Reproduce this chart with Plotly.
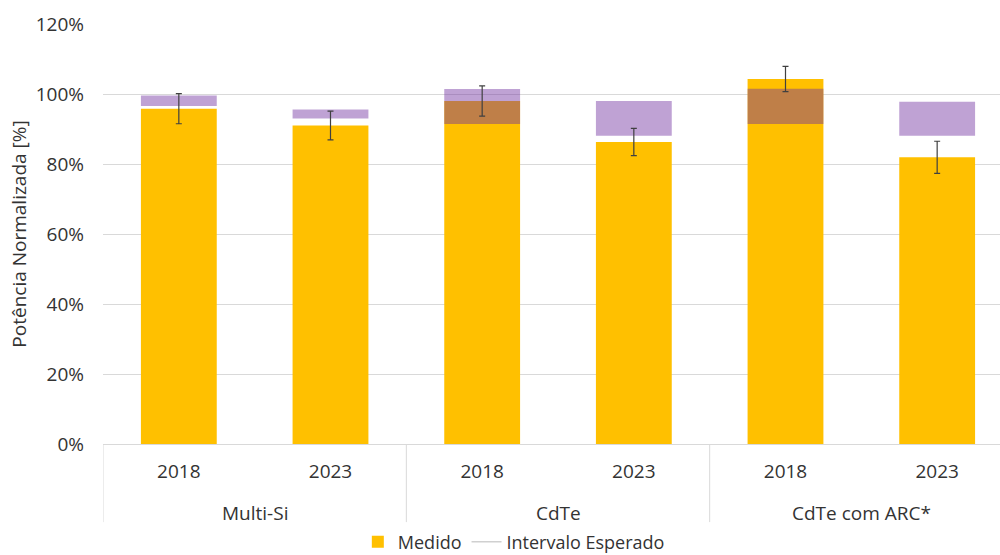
import plotly.graph_objects as go

# Module groups and measurement years
grupos = ["Multi-Si", "Multi-Si", "CdTe", "CdTe", "CdTe com ARC*", "CdTe com ARC*"]
anos = ["2018", "2023", "2018", "2023", "2018", "2023"]

# Measured normalised power [%] and its uncertainty [%]
medido = [95.8, 91.0, 98.0, 86.3, 104.3, 81.9]
incerteza = [4.3, 4.1, 4.3, 3.9, 3.6, 4.6]

# Expected interval (lower / upper bound) [%]
esperado_min = [96.6, 93.0, 91.4, 88.1, 91.4, 88.1]
esperado_max = [99.6, 95.6, 101.4, 98.0, 101.5, 97.8]

y_ticks = [0, 20, 40, 60, 80, 100, 120]

FONT = "Open Sans"
TXT = "#333333"
GRID = "#d9d9d9"

pos = list(range(len(anos)))
intervalo = [hi - lo for lo, hi in zip(esperado_min, esperado_max)]

fig = go.Figure()

fig.add_trace(go.Bar(
    x=pos, y=medido, name="Medido",
    marker=dict(color="#FFC000", line=dict(width=0)),
    width=0.5,
))

fig.add_trace(go.Bar(
    x=pos, y=intervalo, base=esperado_min, name="Intervalo Esperado",
    marker=dict(color="rgba(112,48,160,0.45)", line=dict(width=0)),
    width=0.5, showlegend=False,
))

# uncertainty whiskers drawn on top of both bar layers
fig.add_trace(go.Scatter(
    x=pos, y=medido, mode="markers",
    marker=dict(size=1, opacity=0),
    error_y=dict(type="data", array=incerteza, visible=True,
                 color="#404040", thickness=1.2, width=3),
    showlegend=False, hoverinfo="skip",
))

# legend entry for the expected interval
fig.add_trace(go.Scatter(
    x=[None], y=[None], mode="lines", name="Intervalo Esperado",
    line=dict(color="#d0d0d0", width=1.5),
))

# group labels and group dividers below the year labels
ordem = []
for g in grupos:
    if g not in ordem:
        ordem.append(g)
limites = [-0.5]
for g in ordem:
    idx = [i for i, gg in enumerate(grupos) if gg == g]
    fig.add_annotation(
        x=sum(idx) / len(idx), xref="x", y=-0.164, yref="paper",
        text=g, showarrow=False, yanchor="middle",
        font=dict(family=FONT, size=19, color=TXT),
    )
    limites.append(max(idx) + 0.5)
for b in limites:
    fig.add_shape(type="line", xref="x", yref="paper",
                  x0=b, x1=b, y0=0, y1=-0.186,
                  line=dict(color=GRID, width=1))

n_cat = len(anos)
fig.update_layout(
    width=1000, height=555,
    margin=dict(l=103, r=0, t=24, b=111),
    paper_bgcolor="white", plot_bgcolor="white",
    barmode="overlay",
    font=dict(family=FONT, size=19, color=TXT),
    legend=dict(
        orientation="h", x=0.458, xanchor="center",
        y=(555 - 542) / 555, yref="container", yanchor="middle",
        font=dict(size=18, color=TXT), itemwidth=30, traceorder="normal",
        bgcolor="rgba(0,0,0,0)",
    ),
    showlegend=True,
)

fig.update_xaxes(
    range=[-0.5, n_cat - 0.5 - 13 / 151.7],
    tickvals=pos, ticktext=anos,
    showline=True, linecolor=GRID, linewidth=1,
    showgrid=False, zeroline=False, ticks="",
    ticklabelstandoff=10,
    tickfont=dict(family=FONT, size=19, color=TXT),
)

fig.update_yaxes(
    range=[0, 120],
    tickvals=y_ticks, ticktext=[f"{v}%" for v in y_ticks],
    showgrid=True, gridcolor=GRID, gridwidth=1,
    zeroline=False, showline=False, ticks="",
    ticklabelstandoff=18,
    tickfont=dict(family=FONT, size=19, color=TXT),
    title=dict(text="Potência Normalizada [%]",
               font=dict(family=FONT, size=19, color=TXT), standoff=4),
)

fig.write_html("out.html")
